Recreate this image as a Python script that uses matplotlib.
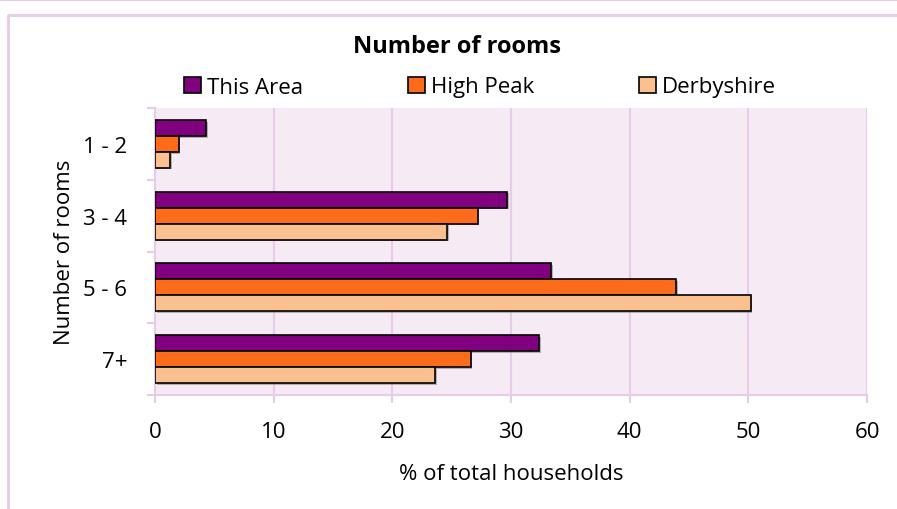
import numpy as np
import matplotlib
matplotlib.use("Agg")
import matplotlib.pyplot as plt
from matplotlib.lines import Line2D
from matplotlib.patches import Patch
import matplotlib.patheffects as pe

# data
categories = ["1 - 2", "3 - 4", "5 - 6", "7+"]
series_names = ["This Area", "High Peak", "Derbyshire"]
this_area = [4.3, 29.7, 33.4, 32.4]
high_peak = [2.0, 27.2, 43.9, 26.6]
derbyshire = [1.3, 24.6, 50.2, 23.6]
x_ticks = [0, 10, 20, 30, 40, 50, 60]

colors = ["#800080", "#FC6C1A", "#FAC090"]
pink = "#E6CCE6"
bg = "#F6EAF5"
fs = 16

plt.rcParams["font.family"] = ["Open Sans", "DejaVu Sans"]

W, H = 897, 510
fig = plt.figure(figsize=(W / 100, H / 100), dpi=100)

# outer frame lines
fig.add_artist(Line2D([0, 1], [1 - 1 / H, 1 - 1 / H], color=pink, lw=1.5))
fig.add_artist(Line2D([8 / W, 8 / W, 1], [0, 1 - 16 / H, 1 - 16 / H], color=pink, lw=2))

ax = fig.add_axes([155 / W, (H - 396) / H, 712 / W, 287 / H])
ax.set_facecolor(bg)

y = np.arange(len(categories))
h = 0.222
shadow = [pe.SimplePatchShadow(offset=(1.2, -1.2), shadow_rgbFace="#888888", alpha=0.6), pe.Normal()]
for i, (vals, name) in enumerate(zip([this_area, high_peak, derbyshire], series_names)):
    bars = ax.barh(y + (i - 1) * h, vals, height=h, color=colors[i], edgecolor="black",
                   linewidth=1.2, label=name, zorder=3)
    for b in bars:
        b.set_path_effects(shadow)

ax.set_xlim(0, 60)
ax.set_ylim(len(categories) - 0.5, -0.5)
ax.set_xticks(x_ticks)
ax.set_xticklabels([str(t) for t in x_ticks], fontsize=fs)
ax.grid(axis="x", color=pink, lw=1.5, zorder=0)
ax.tick_params(axis="x", length=6, width=1.5, color=pink, pad=13)

ax.set_yticks(np.arange(-0.5, len(categories)), minor=False)
ax.set_yticklabels([])
ax.set_yticks(y, minor=True)
ax.set_yticklabels(categories, minor=True, fontsize=fs)
ax.tick_params(axis="y", which="major", length=6, width=1.5, color=pink)
ax.tick_params(axis="y", which="minor", length=0, pad=20)

for s in ["top", "right"]:
    ax.spines[s].set_visible(False)
for s in ["left", "bottom"]:
    ax.spines[s].set_color(pink)
    ax.spines[s].set_linewidth(1.5)

ax.set_xlabel("% of total households", fontsize=fs, labelpad=15)
ax.set_ylabel("Number of rooms", fontsize=fs, labelpad=6)

fig.text(457 / W, 1 - 47 / H, "Number of rooms", ha="center", va="center",
         fontsize=17, fontweight="bold")

handles = [Patch(facecolor=c, edgecolor="black", linewidth=1.2) for c in colors]
fig.legend(handles, series_names, loc="center left", bbox_to_anchor=(184 / W, 1 - 88 / H),
           ncol=3, frameon=False, fontsize=fs, handlelength=0.75, handleheight=0.75,
           handletextpad=0.3, columnspacing=4.7, borderaxespad=0, borderpad=0)

fig.savefig("out.png", dpi=100)
